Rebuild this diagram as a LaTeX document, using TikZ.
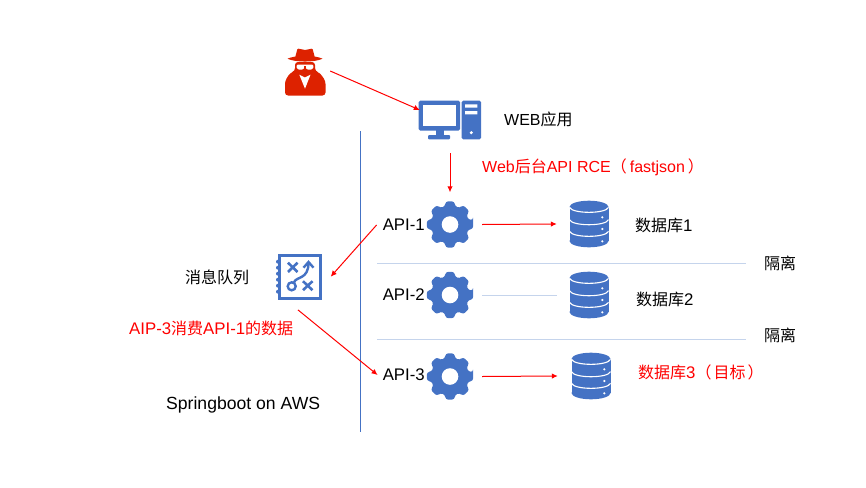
\documentclass[tikz,border=0pt]{standalone}
\usepackage{fontspec}
\setmainfont{Liberation Sans}
\newfontfamily\cjk{Noto Sans CJK SC}
\usetikzlibrary{arrows.meta,positioning}
\definecolor{iconblue}{HTML}{4472C4}
\definecolor{spyred}{HTML}{DD2200}
\definecolor{sepblue}{HTML}{C5D4EC}
\newcommand{\cn}[1]{{\cjk\fontsize{16}{19}\selectfont #1}}
\tikzset{
  label/.style={font=\fontsize{16.8}{20}\selectfont, inner sep=0pt},
  slim/.style={font=\fontsize{16}{19}\selectfont},
  alert/.style={label, text=red},
  holder/.style={inner sep=0pt, minimum width=#1, minimum height=#1},
  flow/.style={-{Latex[length=6pt, width=5.5pt]}, red, line width=1pt},
  sep/.style={sepblue, line width=1pt},
  gearicon/.pic={
    \fill[iconblue, rounded corners=2.5pt] (-11:23.5)
      \foreach \a in {0,45,...,315} { -- (\a-11:23.5) -- (\a+11:23.5) -- (\a+15:19) -- (\a+30:19) } -- cycle;
    \fill[white] (0,0) circle (8.3);
  },
  dbicon/.pic={
    \fill[iconblue] (0,-17) ellipse [x radius=19.5, y radius=6.3];
    \fill[iconblue] (-19.5,-17) rectangle (19.5,17);
    \fill[iconblue] (0,17) ellipse [x radius=19.5, y radius=6.3];
    \foreach \y in {-16.7,-4.3,7.3}
      \draw[white, line width=1.1pt] (-19.5,\y) .. controls (-17,\y+6.7) and (17,\y+6.7) .. (19.5,\y);
    \foreach \y in {-6.7,5,17.3}
      \fill[white] (13.3,\y) circle (1.2);
  },
  pcicon/.pic={
    \fill[iconblue, rounded corners=1.5pt] (-31.3,-19.3) rectangle (10,10.7);
    \fill[white] (-26.7,-14.7) rectangle (5.7,6);
    \fill[iconblue] (-14,10) rectangle (-6,15);
    \fill[iconblue, rounded corners=1pt] (-22,15) rectangle (0,19.3);
    \fill[iconblue, rounded corners=1.5pt] (11.7,-19.3) rectangle (31,19.3);
    \fill[white] (15,-15.7) rectangle (27.3,-12.3) (15,-9) rectangle (27.3,-5.7);
    \fill[white] (21.3,12.7) circle (1.7);
  },
  spyicon/.pic={
    \fill[spyred, rounded corners=1pt] (-10,-13) -- (-7.5,-22.5) -- (0,-21) -- (7.5,-22.5) -- (10,-13) -- cycle;
    \fill[spyred] (-17.5,-12.3) .. controls (-10,-16) and (10,-16) .. (17.5,-12.3) .. controls (10,-8.5) and (-10,-8.5) .. cycle;
    \fill[spyred, rounded corners=3pt] (-10,-9) -- (10,-9) -- (10,0) -- (15,2) -- (20.5,10) -- (20.5,24.5) -- (-20,24.5) -- (-20,10) -- (-15,2) -- (-10,0) -- cycle;
    \fill[white, rounded corners=1pt] (-8.3,-6.3) rectangle (8.3,-2.5);
    \fill[white] (-8,-3) -- (-1,-3) -- (-3,-1.3) -- (-6,-1.3) -- cycle (8,-3) -- (1,-3) -- (3,-1.3) -- (6,-1.3) -- cycle;
    \fill[spyred] (-.8,-5) rectangle (.8,-1);
    \fill[white] (-5.7,3.7) -- (0,6.5) -- (5.5,3.7) -- (0,17.7) -- cycle;
  },
  queueicon/.pic={
    \draw[iconblue, line width=3pt] (-19,-21.5) rectangle (21.5,22);
    \foreach \y in {-15,-9,...,15}
      \fill[iconblue] (-20.5,\y) circle (2);
    \draw[iconblue, line width=2.6pt] (-10.5,-14) -- (-1,-4.7) (-10.5,-4.7) -- (-1,-14);
    \draw[iconblue, line width=2.6pt] (4.5,4.5) -- (14,13.5) (4.5,13.5) -- (14,4.5);
    \draw[iconblue, line width=2.4pt] (-6.8,9.6) circle (4);
    \draw[iconblue, line width=2.4pt] (-4.5,5.5) .. controls (-2,-.5) and (10,3) .. (10,-14);
    \draw[iconblue, line width=2.4pt] (5,-9) -- (10,-14.7) -- (15,-9);
  },
}

\begin{document}
\begin{tikzpicture}[x=1pt, y=-1pt]
  \useasboundingbox (0,0) rectangle (866,487);
  \node[holder=50pt] (spy) at (305,71) {};
  \node[holder=46pt] (pc) at (450,120) {};
  \node[holder=46pt] (queue) at (298.5,276.7) {};
  \node[holder=46pt] (gear1) at (450,224.5) {};
  \node[holder=46pt] (gear2) at (450,295) {};
  \node[holder=46pt] (gear3) at (450,376.5) {};
  \node[holder=46pt] (db1) at (589,224) {};
  \node[holder=46pt] (db2) at (589,295) {};
  \node[holder=46pt] (db3) at (591,376) {};
  \pic at (spy) {spyicon};
  \pic at (pc) {pcicon};
  \pic at (queue) {queueicon};
  \foreach \n in {gear1,gear2,gear3} \pic at (\n) {gearicon};
  \foreach \n in {db1,db2,db3} \pic at (\n) {dbicon};

  \node[label, slim, anchor=west] (weblabel) at (504,119) {WEB\cn{应用}};
  \node[alert, slim, anchor=west] (rcelabel) at (482,167) {Web\cn{后台}API RCE\cn{（}\hspace{3pt}fastjson\hspace{3pt}\cn{）}};
  \node[label, anchor=east] (api1) at (425,225) {API-1};
  \node[label, anchor=east] (api2) at (425,295) {API-2};
  \node[label, anchor=east] (api3) at (425,375) {API-3};
  \node[label, anchor=west] (dblabel1) at (635,225) {\cn{数据库}1};
  \node[label, anchor=west] (dblabel2) at (636,299) {\cn{数据库}2};
  \node[alert, anchor=west] (dblabel3) at (638,372) {\cn{数据库}3\cn{（}\hspace{2pt}\cn{目标}\hspace{2pt}\cn{）}};
  \node[label, anchor=west] (isolate1) at (764,263) {\cn{隔离}};
  \node[label, anchor=west] (isolate2) at (764,335) {\cn{隔离}};
  \node[label, anchor=west] (queuelabel) at (185,277) {\cn{消息队列}};
  \node[alert, anchor=west] (consume) at (129,328) {AIP-3\cn{消费}API-1\cn{的数据}};
  \node[label, font=\fontsize{17.6}{20}\selectfont, anchor=west] (aws) at (166,405) {Springboot on AWS};

  \coordinate (top) at (360,131);
  \coordinate (bottom) at (360,432);
  \coordinate (sepa) at (377,263);
  \coordinate (sepb) at (746,263);
  \coordinate (sepc) at (377,339);
  \coordinate (sepd) at (746,339);
  \draw[iconblue, line width=1pt] (top) -- (bottom);
  \draw[sep] (sepa) -- (sepb);
  \draw[sep] (sepc) -- (sepd);

  \draw[flow] (spy.east) -- ([shift={(-7,-10)}]pc.west);
  \draw[flow] ([yshift=-10pt]pc.south) -- ([yshift=9pt]gear1.north);
  \draw[flow] ([xshift=9pt]gear1.east) -- ([xshift=-9pt]db1.west);
  \draw[sep, line width=.7pt] ([xshift=9pt]gear2.east) -- ([xshift=-9pt]db2.west);
  \draw[flow] ([xshift=9pt]gear3.east) -- ([xshift=-10pt]db3.west);
  \draw[flow] ([xshift=-6pt]api1.west) -- ([xshift=9pt]queue.east);
  \draw[flow] ([shift={(-.5,10)}]queue.south) -- ([xshift=-5pt]api3.west);
\end{tikzpicture}
\end{document}
